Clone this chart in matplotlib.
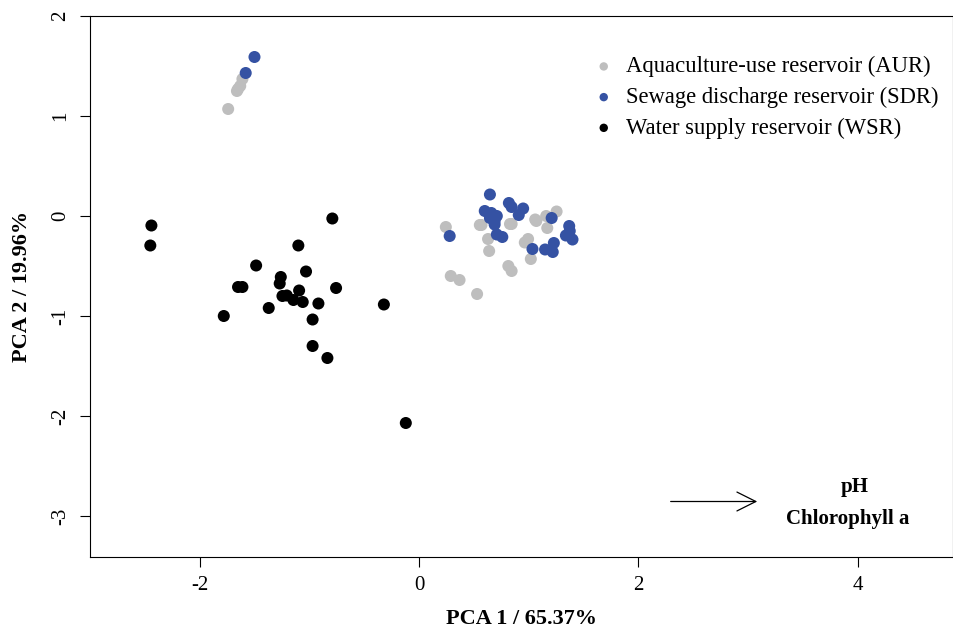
import matplotlib.pyplot as plt

plt.rcParams['font.family'] = ['Liberation Serif', 'DejaVu Serif']
plt.rcParams['axes.unicode_minus'] = False

# PCA scores
aur_x = [-1.74, -1.65, -1.63, -1.66, -1.61, 0.245, 0.57, 0.555, 0.845, 0.83, 0.63, 0.64,
         0.29, 0.37, 0.53, 0.815, 0.845, 0.965, 0.995, 1.02, 1.07, 1.16, 1.17, 1.255, 1.06]
aur_y = [1.07, 1.27, 1.30, 1.25, 1.37, -0.11, -0.09, -0.09, -0.08, -0.08, -0.23, -0.35,
         -0.60, -0.64, -0.78, -0.50, -0.55, -0.265, -0.23, -0.43, -0.05, 0.0, -0.12, 0.045, -0.035]

sdr_x = [-1.50, -1.58, 0.647, 0.82, 0.845, 0.95, 0.91, 0.60, 0.66, 0.71, 0.647, 0.69, 0.69,
         0.71, 0.76, 0.28, 1.21, 1.37, 1.34, 1.40, 1.375, 1.035, 1.15, 1.23, 1.22]
sdr_y = [1.59, 1.43, 0.215, 0.13, 0.09, 0.075, 0.01, 0.05, 0.03, 0.0, -0.02, -0.05, -0.085,
         -0.185, -0.21, -0.20, -0.02, -0.10, -0.195, -0.235, -0.15, -0.33, -0.335, -0.27, -0.36]

wsr_x = [-2.44, -2.45, -0.79, -1.10, -1.485, -1.03, -1.26, -1.27, -1.65, -1.61, -1.093, -0.756,
         -1.245, -1.205, -1.145, -1.06, -0.917, -0.32, -1.37, -1.78, -0.97, -0.97, -0.835, -0.12]
wsr_y = [-0.095, -0.295, -0.025, -0.295, -0.495, -0.555, -0.61, -0.675, -0.71, -0.71, -0.745, -0.72,
         -0.80, -0.795, -0.84, -0.86, -0.875, -0.885, -0.92, -1.0, -1.035, -1.30, -1.42, -2.07]

groups = ['Aquaculture-use reservoir (AUR)', 'Sewage discharge reservoir (SDR)',
          'Water supply reservoir (WSR)']
colors = ['#bebebe', '#3552a3', 'black']

# loading arrow (pH, Chlorophyll a)
arrow_start = (2.27, -2.855)
arrow_end = (3.11, -2.855)
arrow_labels = ['pH', 'Chlorophyll a']

fig = plt.figure(figsize=(9.54, 6.28), dpi=100)
ax = fig.add_axes([90 / 954, 1 - 557 / 628, 863 / 954, 541 / 628])

ax.scatter(aur_x, aur_y, s=75, color=colors[0], edgecolors='none', label=groups[0])
ax.scatter(sdr_x, sdr_y, s=75, color=colors[1], edgecolors='none', label=groups[1])
ax.scatter(wsr_x, wsr_y, s=75, color=colors[2], edgecolors='none', label=groups[2])

ax.annotate('', xy=arrow_end, xytext=arrow_start,
            arrowprops=dict(arrowstyle='->', lw=0.9, color='black', mutation_scale=34))
ax.text(3.97, -2.71, arrow_labels[0], fontsize=15, fontweight='bold', ha='center', va='center')
ax.text(3.91, -3.03, arrow_labels[1], fontsize=15, fontweight='bold', ha='center', va='center')

ax.set_xlim(-3.0, 4.87)
ax.set_ylim(-3.41, 2.0)
ax.set_xticks([-2, 0, 2, 4])
ax.set_yticks([-3, -2, -1, 0, 1, 2])
ax.tick_params(direction='out', length=7, width=0.8, labelsize=15, pad=7)
for lab in ax.get_yticklabels():
    lab.set_rotation(90)
    lab.set_va('center')
for sp in ax.spines.values():
    sp.set_linewidth(0.8)

ax.set_xlabel('PCA 1 / 65.37%', fontsize=16, fontweight='bold', labelpad=10)
ax.set_ylabel('PCA 2 / 19.96%', fontsize=16, fontweight='bold', labelpad=14)

leg = ax.legend(loc='upper right', bbox_to_anchor=(1.002, 0.955), frameon=False, fontsize=16.3,
                markerscale=0.7, handletextpad=0.0, labelspacing=0.42, borderaxespad=0.3)

fig.savefig('out.png', dpi=100)
